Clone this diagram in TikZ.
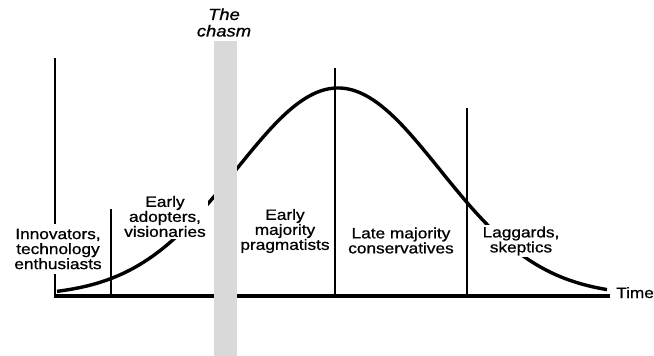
\documentclass[tikz,border=0pt]{standalone}
\usepackage{fontspec}
\setmainfont{Liberation Sans}[FakeStretch=1.15,FakeBold=0.8]
\definecolor{chasmgray}{HTML}{D9D9D9}
\begin{document}
\begin{tikzpicture}[x=1pt,y=-1pt,
  lbl/.style={font=\fontsize{15}{15}\selectfont, align=center, fill=white, inner sep=2pt},
  axisline/.style={line width=4.5pt},
  divider/.style={line width=2.8pt},
  bellcurve/.style={line width=3.4pt},
]
\useasboundingbox (0,0) rectangle (654,356);
% axes
\coordinate (O) at (55,296);
\coordinate (Yt) at (55,58);
\coordinate (Xe) at (610,296);
\draw[divider] (Yt) -- (O);
\draw[axisline] ([xshift=-1.4pt]O) -- (Xe);
% dividers
\coordinate (d1t) at (111,209); \coordinate (d1b) at (111,296);
\coordinate (d2t) at (335,68);  \coordinate (d2b) at (335,296);
\coordinate (d3t) at (467,108); \coordinate (d3b) at (467,296);
\draw[divider] (d1t) -- (d1b);
\draw[divider] (d2t) -- (d2b);
\draw[divider] (d3t) -- (d3b);
% bell curve
\draw[bellcurve] plot[domain=57:607,samples=200,smooth] (\x,{296-208*exp(-0.5*(((\x-338)/102)^2))});
% chasm
\node[fill=chasmgray, minimum width=23pt, minimum height=315pt, inner sep=0pt, anchor=north west] (chasm) at (214,41) {};
% labels
\node[lbl, inner ysep=5pt] (innov) at (58,249) {Innovators,\\technology\\enthusiasts};
\node[lbl] (early) at (165,216.5) {Early\\adopters,\\visionaries};
\node[lbl] (emaj) at (285,231) {Early\\majority\\pragmatists};
\node[lbl] (late) at (401,240.5) {Late majority\\conservatives};
\node[lbl] (lag) at (521,241) {Laggards,\\skeptics};
\node[font=\fontsize{15}{15}\selectfont, anchor=base west, inner sep=0pt] (time) at (616,298) {Time};
\node[font=\itshape\fontsize{16}{16.5}\selectfont, align=center, inner sep=0pt] (chasmlbl) at (224,22.5) {The\\chasm};
\end{tikzpicture}
\end{document}
